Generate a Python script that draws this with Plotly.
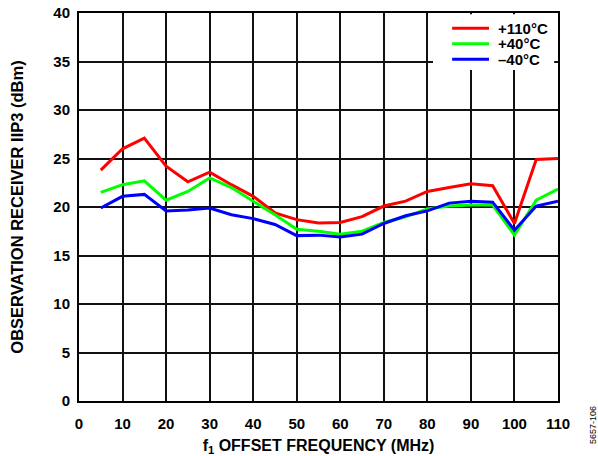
import plotly.graph_objects as go

freq_mhz = [5, 10, 15, 20, 25, 30, 35, 40, 45, 50, 55, 60, 65, 70, 75, 80, 85, 90, 95, 100, 105, 110]
iip3_p110 = [23.8, 26.0, 27.1, 24.2, 22.6, 23.6, 22.3, 21.1, 19.4, 18.7, 18.35, 18.4, 19.0, 20.1, 20.6, 21.6, 22.0, 22.4, 22.2, 18.3, 24.9, 25.0]
iip3_p40 = [21.5, 22.3, 22.7, 20.7, 21.6, 23.0, 22.0, 20.6, 19.2, 17.7, 17.5, 17.2, 17.5, 18.4, 19.0, 19.8, 20.1, 20.2, 20.2, 17.1, 20.7, 21.85]
iip3_m40 = [19.9, 21.1, 21.3, 19.6, 19.7, 19.9, 19.2, 18.8, 18.2, 17.05, 17.1, 16.9, 17.2, 18.3, 19.1, 19.6, 20.4, 20.6, 20.5, 17.6, 20.1, 20.6]

series_names = ["+110°C", "+40°C", "\u201340°C"]
series_colors = ["#ff0000", "#00ff00", "#0000ff"]
x_ticks = list(range(0, 111, 10))
y_ticks = list(range(0, 41, 5))

FONT = "Arial, Liberation Sans, sans-serif"

fig = go.Figure()
for name, vals, col in zip(series_names, [iip3_p110, iip3_p40, iip3_m40], series_colors):
    fig.add_trace(go.Scatter(x=freq_mhz, y=vals, mode="lines", name=name,
                             line=dict(color=col, width=3)))

axis_common = dict(showgrid=True, gridcolor="#111111", gridwidth=1.6,
                   showline=True, linecolor="black", linewidth=2, mirror=True,
                   zeroline=False, ticks="", automargin=False,
                   tickfont=dict(family=FONT, size=15, color="black", weight="bold"))

fig.update_xaxes(range=[0, 110], tickvals=x_ticks, ticklabelstandoff=8, **axis_common,
                 title=dict(text="f<sub>1</sub> OFFSET FREQUENCY (MHz)",
                            font=dict(family=FONT, size=16, color="black", weight="bold"), standoff=9))
fig.update_yaxes(range=[0, 40], tickvals=y_ticks, ticklabelstandoff=4, **axis_common,
                 title=dict(text="OBSERVATION RECEIVER IIP3 (dBm)",
                            font=dict(family=FONT, size=16.5, color="black", weight="bold"), standoff=26))

fig.update_layout(
    width=598, height=456,
    margin=dict(l=79, r=40, t=13, b=55),
    plot_bgcolor="white", paper_bgcolor="white",
    font=dict(family=FONT, color="black"),
    showlegend=False,
)

# Legend drawn inside the plot's upper-right corner (paper coordinates)
leg_box = dict(x0=0.739, x1=0.992, y0=0.853, y1=0.997)
leg_line_x = (0.779, 0.856)
leg_text_x = 0.871
leg_rows_y = [0.961, 0.921, 0.881]
fig.add_shape(type="rect", xref="paper", yref="paper", line=dict(width=0),
              fillcolor="white", layer="above", **leg_box)
for name, col, yy in zip(series_names, series_colors, leg_rows_y):
    fig.add_shape(type="line", xref="paper", yref="paper", x0=leg_line_x[0], x1=leg_line_x[1],
                  y0=yy, y1=yy, line=dict(color=col, width=3), layer="above")
    fig.add_annotation(text=name, xref="paper", yref="paper", x=leg_text_x, y=yy,
                       xanchor="left", yanchor="middle", showarrow=False,
                       font=dict(family=FONT, size=15, color="black", weight="bold"))

fig.add_annotation(text="5657-106", x=1.0, xref="paper", xshift=35, y=-0.062, yref="paper",
                   xanchor="center", yanchor="middle",
                   textangle=-90, showarrow=False, font=dict(family=FONT, size=9, color="black"))

fig.write_html("out.html", config={"displayModeBar": False},
               post_script="document.body.style.margin='0';document.body.style.overflow='hidden';")
